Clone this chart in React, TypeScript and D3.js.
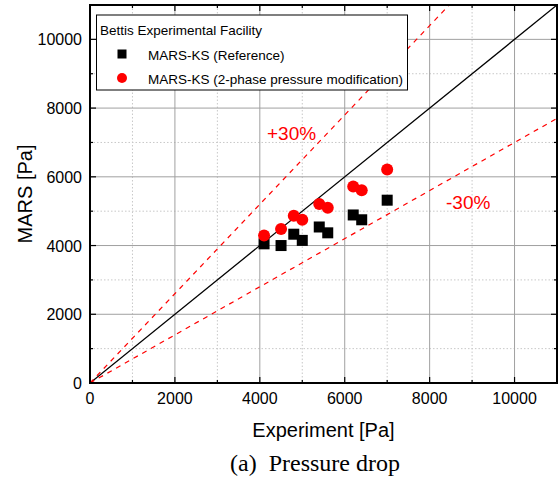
import React from "react";
import * as d3 from "d3";

const refX = [4100, 4500, 4800, 5000, 5400, 5600, 6200, 6400, 7000];
const refY = [4050, 4000, 4330, 4150, 4540, 4370, 4890, 4750, 5320];
const modX = [4100, 4500, 4800, 5000, 5400, 5600, 6200, 6400, 7000];
const modY = [4290, 4480, 4870, 4750, 5210, 5100, 5720, 5610, 6210];
const majorTicks = [0, 2000, 4000, 6000, 8000, 10000];
const minorTicks = [1000, 3000, 5000, 7000, 9000, 11000];
const domainMax = 11000;

export default function App() {
  const W = 560, H = 484;
  const L = 90, R = 557, T = 5, B = 383;
  const x = d3.scaleLinear().domain([0, domainMax]).range([L, R]);
  const y = d3.scaleLinear().domain([0, domainMax]).range([B, T]);
  const font = "Liberation Sans, Arial, sans-serif";
  const line = d3.line<[number, number]>().x(d => x(d[0])).y(d => y(d[1]));
  const ratios = [1.3, 0.7];

  return (
    <svg width={W} height={H} style={{ position: "absolute", left: 0, top: 0 }}>
      <defs>
        <clipPath id="plot">
          <rect x={L} y={T} width={R - L} height={B - T} />
        </clipPath>
      </defs>
      <rect x={0} y={0} width={W} height={H} fill="white" />
      {/* grid */}
      {minorTicks.filter(v => v < domainMax).map(v => (
        <g key={"mg" + v}>
          <line x1={x(v)} x2={x(v)} y1={T} y2={B} stroke="#c8c8c8" strokeDasharray="1.5,2" />
          <line x1={L} x2={R} y1={y(v)} y2={y(v)} stroke="#c8c8c8" strokeDasharray="1.5,2" />
        </g>
      ))}
      {majorTicks.filter(v => v > 0).map(v => (
        <g key={"Mg" + v}>
          <line x1={x(v)} x2={x(v)} y1={T} y2={B} stroke="#a0a0a0" strokeWidth={1} />
          <line x1={L} x2={R} y1={y(v)} y2={y(v)} stroke="#a0a0a0" strokeWidth={1} />
        </g>
      ))}
      <g clipPath="url(#plot)">
        <path d={line([[0, 0], [domainMax, domainMax]]) || ""} stroke="black" strokeWidth={1.3} fill="none" />
        {ratios.map(r => (
          <path key={r} d={line([[0, 0], [domainMax, domainMax * r]]) || ""} stroke="#ff0000" strokeWidth={1.2} strokeDasharray="5,5" fill="none" />
        ))}
      </g>
      {/* points */}
      {refX.map((v, i) => (
        <rect key={"r" + i} x={x(v) - 5.5} y={y(refY[i]) - 5.5} width={11} height={11} fill="black" />
      ))}
      {modX.map((v, i) => (
        <circle key={"c" + i} cx={x(v)} cy={y(modY[i])} r={6} fill="#ff0000" />
      ))}
      {/* annotations */}
      <text x={267} y={140} fill="#ff0000" fontFamily={font} fontSize={19}>+30%</text>
      <text x={446} y={209} fill="#ff0000" fontFamily={font} fontSize={19}>-30%</text>
      {/* legend */}
      <rect x={96.5} y={15} width={311} height={75} fill="white" stroke="black" strokeWidth={1} />
      <text x={100} y={35} fontFamily={font} fontSize={13.5}>Bettis Experimental Facility</text>
      <rect x={117.5} y={49.5} width={9} height={9} fill="black" />
      <text x={148} y={59.5} fontFamily={font} fontSize={13.5}>MARS-KS (Reference)</text>
      <circle cx={122} cy={78} r={5} fill="#ff0000" />
      <text x={148} y={83.5} fontFamily={font} fontSize={13.5}>MARS-KS (2-phase pressure modification)</text>
      {/* ticks */}
      {majorTicks.map(v => (
        <g key={"t" + v}>
          <line x1={x(v)} x2={x(v)} y1={B} y2={B - 6} stroke="black" strokeWidth={1.2} />
          <line x1={x(v)} x2={x(v)} y1={T} y2={T + 6} stroke="black" strokeWidth={1.2} />
          <line x1={L} x2={L + 6} y1={y(v)} y2={y(v)} stroke="black" strokeWidth={1.2} />
          <line x1={R} x2={R - 6} y1={y(v)} y2={y(v)} stroke="black" strokeWidth={1.2} />
          <text x={x(v)} y={B + 21} textAnchor="middle" fontFamily={font} fontSize={16}>{v}</text>
          <text x={L - 8} y={y(v) + 6} textAnchor="end" fontFamily={font} fontSize={16}>{v}</text>
        </g>
      ))}
      {minorTicks.filter(v => v < domainMax).map(v => (
        <g key={"mt" + v}>
          <line x1={x(v)} x2={x(v)} y1={B} y2={B - 3} stroke="black" strokeWidth={1.2} />
          <line x1={x(v)} x2={x(v)} y1={T} y2={T + 3} stroke="black" strokeWidth={1.2} />
          <line x1={L} x2={L + 3} y1={y(v)} y2={y(v)} stroke="black" strokeWidth={1.2} />
          <line x1={R} x2={R - 3} y1={y(v)} y2={y(v)} stroke="black" strokeWidth={1.2} />
        </g>
      ))}
      <rect x={L} y={T} width={R - L} height={B - T} fill="none" stroke="black" strokeWidth={2} />
      {/* axis titles */}
      <text x={(L + R) / 2} y={437} textAnchor="middle" fontFamily={font} fontSize={20}>Experiment [Pa]</text>
      <text transform={`translate(32,${(T + B) / 2}) rotate(-90)`} textAnchor="middle" fontFamily={font} fontSize={20}>MARS [Pa]</text>
      <text x={315} y={471} textAnchor="middle" fontFamily="Liberation Serif, Times New Roman, serif" fontSize={24} style={{ whiteSpace: "pre" }}>(a)  Pressure drop</text>
    </svg>
  );
}
